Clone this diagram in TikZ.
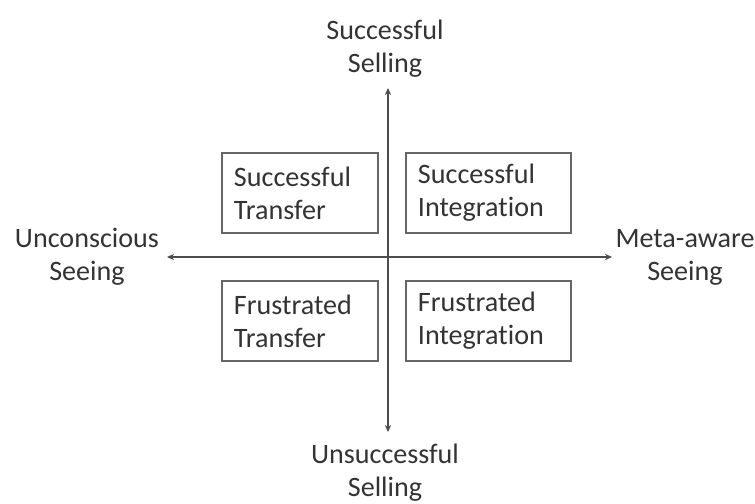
\documentclass[tikz,border=0pt]{standalone}
\usepackage{fontspec}
\setmainfont{Carlito}[Ligatures=NoCommon]
\usetikzlibrary{arrows.meta, positioning}

\begin{document}
\begin{tikzpicture}[
      quadrant/.style={draw=black!60, line width=0.9pt, text=black!80, align=left, text width=3.3cm, inner xsep=0.3cm, minimum height=2cm},
      pole/.style={align=center, text=black!80},
      axis/.style={draw=black!70, line width=0.9pt, {Stealth[length=5pt,width=4.5pt]}-{Stealth[length=5pt,width=4.5pt]}},
      font=\fontsize{20}{23.5}\selectfont
    ]
    \useasboundingbox (-9.7,-6.15) rectangle (9.175,6.425);

    \node[pole] (selling) at (-0.075,5.2) {Successful\\Selling};
    \node[pole] (unselling) at (-0.075,-5.4) {Unsuccessful\\Selling};
    \node[pole] (unconscious) at (-7.525,0) {Unconscious\\Seeing};
    \node[pole] (metaaware) at (7.425,0) {Meta-aware\\Seeing};

    \coordinate (top) at (0,4.225);
    \coordinate (bottom) at (0,-4.375);
    \coordinate (left) at (-5.525,0);
    \coordinate (right) at (5.6,0);

    \draw[axis] (top) -- (bottom);
    \draw[axis] (left) -- (right);

    \node[quadrant] (transfer) at (-2.2,1.6) {Successful\\Transfer};
    \node[quadrant, text width=3.525cm] (integration) at (2.5125,1.6) {Successful\\Integration};
    \node[quadrant] (ftransfer) at (-2.2,-1.6) {Frustrated\\Transfer};
    \node[quadrant, text width=3.525cm] (fintegration) at (2.5125,-1.6) {Frustrated\\Integration};
  \end{tikzpicture}
\end{document}
